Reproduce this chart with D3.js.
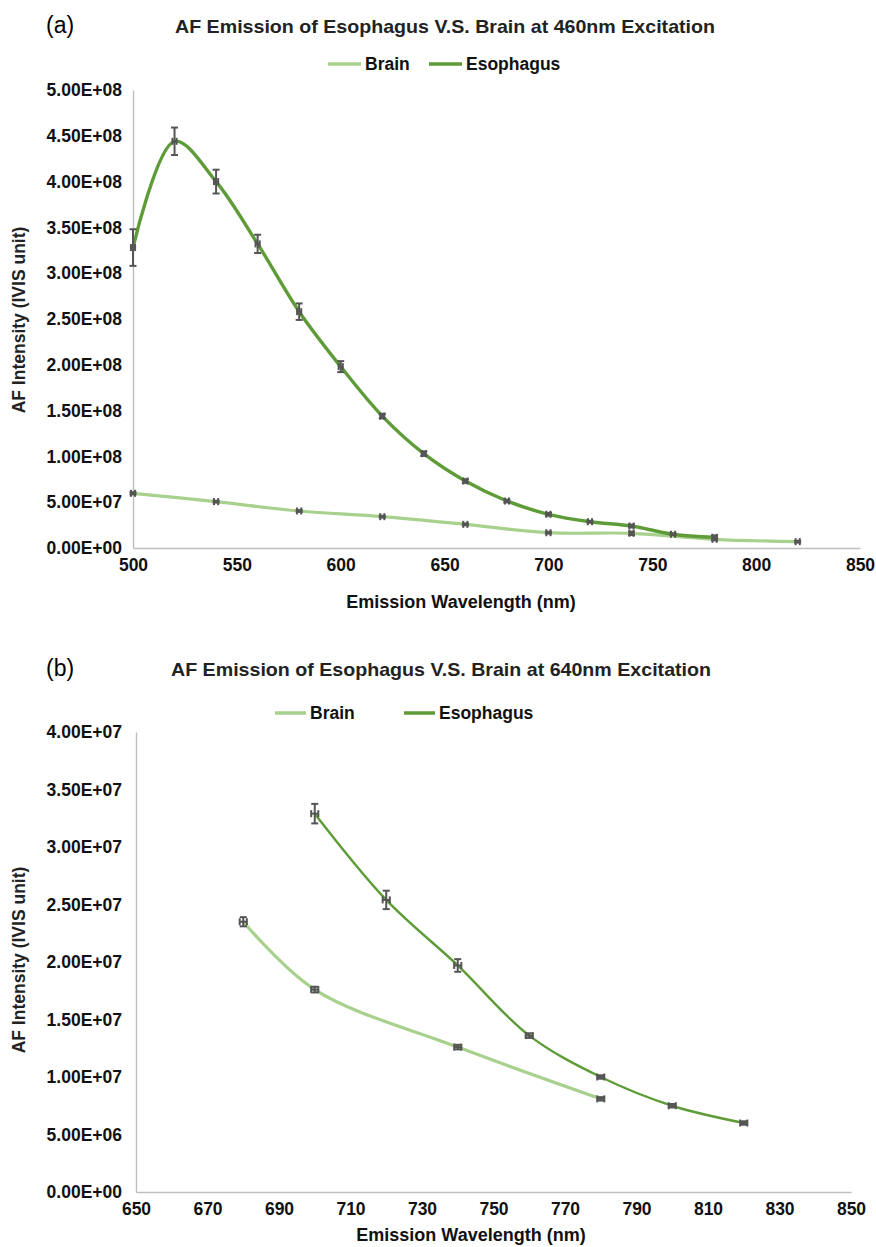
<!DOCTYPE html>
<html>
<head>
<meta charset="utf-8">
<script src="https://cdn.jsdelivr.net/npm/d3@7"></script>
<style>
  html, body { margin: 0; padding: 0; background: #fff; }
  text { font-family: "Liberation Sans", Arial, sans-serif; }
</style>
</head>
<body>
<svg id="chart" width="876" height="1247"></svg>
<script>
// ---------- Panel (a): 460nm excitation ----------
const aBrainX   = [500, 540, 580, 620, 660, 700, 740, 780, 820];
const aBrainY   = [5.97e7, 5.06e7, 4.04e7, 3.42e7, 2.58e7, 1.67e7, 1.60e7, 0.95e7, 0.69e7];
const aBrainErr = [1.2e6, 1.0e6, 1.0e6, 1.0e6, 1.0e6, 1.0e6, 1.8e6, 1.2e6, 1.0e6];
const aEsoX     = [500, 520, 540, 560, 580, 600, 620, 640, 660, 680, 700, 720, 740, 760, 780];
const aEsoY     = [3.28e8, 4.44e8, 4.00e8, 3.32e8, 2.58e8, 1.98e8, 1.44e8, 1.03e8, 7.31e7, 5.13e7, 3.68e7, 2.87e7, 2.40e7, 1.50e7, 1.17e7];
const aEsoErr   = [2.0e7, 1.5e7, 1.3e7, 1.0e7, 9.0e6, 6.0e6, 2.5e6, 2.5e6, 2.0e6, 1.5e6, 1.5e6, 1.0e6, 1.5e6, 1.0e6, 2.0e6];
const aXTicks   = [500, 550, 600, 650, 700, 750, 800, 850];
const aYTicks   = [0, 5e7, 1e8, 1.5e8, 2e8, 2.5e8, 3e8, 3.5e8, 4e8, 4.5e8, 5e8];

// ---------- Panel (b): 640nm excitation ----------
const bBrainX   = [680, 700, 740, 780];
const bBrainY   = [2.35e7, 1.76e7, 1.26e7, 0.81e7];
const bBrainErr = [0.4e6, 0.25e6, 0.2e6, 0.15e6];
const bEsoX     = [700, 720, 740, 760, 780, 800, 820];
const bEsoY     = [3.29e7, 2.54e7, 1.97e7, 1.36e7, 1.00e7, 0.75e7, 0.60e7];
const bEsoErr   = [0.85e6, 0.8e6, 0.55e6, 0.2e6, 0.15e6, 0.15e6, 0.15e6];
const bXTicks   = [650, 670, 690, 710, 730, 750, 770, 790, 810, 830, 850];
const bYTicks   = [0, 5e6, 1e7, 1.5e7, 2e7, 2.5e7, 3e7, 3.5e7, 4e7];

const BRAIN = "#a9d18e";
const ESO = "#5e9c38";
const ERR = "#555555";
const AXIS = "#bfbfbf";

const svg = d3.select("#chart");

function fmtE(v) {
  if (v === 0) return "0.00E+00";
  const e = Math.floor(Math.log10(v));
  const m = v / Math.pow(10, e);
  return m.toFixed(2) + "E+" + String(e).padStart(2, "0");
}

function drawPanel(cfg) {
  const g = svg.append("g");
  const x = d3.scaleLinear().domain(cfg.xDomain).range([cfg.left, cfg.right]);
  const y = d3.scaleLinear().domain(cfg.yDomain).range([cfg.bottom, cfg.top]);

  // panel letter
  g.append("text").attr("x", cfg.letterX).attr("y", cfg.letterY)
    .attr("font-size", 23).attr("fill", "#000").text(cfg.letter);
  // title
  g.append("text").attr("x", cfg.titleX).attr("y", cfg.titleY)
    .attr("text-anchor", "middle").attr("font-size", 19).attr("font-weight", "bold")
    .attr("fill", "#222").attr("textLength", 540).attr("lengthAdjust", "spacingAndGlyphs").text(cfg.title);

  // axes
  const xAxis = d3.axisBottom(x).tickValues(cfg.xTicks).tickSize(0).tickPadding(11).tickFormat(d3.format("d"));
  const gx = g.append("g").attr("transform", `translate(0,${cfg.bottom})`).call(xAxis);
  gx.select(".domain").attr("stroke", AXIS).attr("stroke-width", 1.4);
  gx.selectAll("text").attr("font-size", 17.5).attr("font-weight", "bold").attr("fill", "#111")
    .attr("font-family", "Liberation Sans, Arial, sans-serif");

  const yAxis = d3.axisLeft(y).tickValues(cfg.yTicks).tickSize(0).tickPadding(cfg.left - 122).tickFormat(fmtE);
  const gy = g.append("g").attr("transform", `translate(${cfg.left},0)`).call(yAxis);
  gy.select(".domain").attr("stroke", AXIS).attr("stroke-width", 1.4);
  gy.selectAll("text").attr("font-size", 17.5).attr("font-weight", "bold").attr("fill", "#111")
    .attr("font-family", "Liberation Sans, Arial, sans-serif");

  // axis titles
  g.append("text").attr("x", cfg.xTitleX).attr("y", cfg.xTitleY).attr("text-anchor", "middle")
    .attr("font-size", 18).attr("font-weight", "bold").attr("fill", "#111").text("Emission Wavelength (nm)");
  g.append("text").attr("transform", `translate(${cfg.yTitleX},${cfg.yTitleY}) rotate(-90)`)
    .attr("text-anchor", "middle").attr("font-size", 17.5).attr("font-weight", "bold")
    .attr("fill", "#222").text("AF Intensity (IVIS unit)");

  const line = d3.line().x(d => x(d[0])).y(d => y(d[1])).curve(d3.curveCatmullRom.alpha(0.5));

  function series(xs, ys, errs, color, width, xErr) {
    const pts = xs.map((v, i) => [v, ys[i], errs[i]]);
    g.append("path").datum(pts).attr("d", line).attr("fill", "none")
      .attr("stroke", color).attr("stroke-width", width).attr("stroke-linecap", "round");
    const eb = g.append("g").attr("stroke", ERR).attr("stroke-width", 2).attr("fill", "none");
    pts.forEach(p => {
      const cx = x(p[0]);
      const y1 = y(p[1] + p[2]), y2 = y(p[1] - p[2]);
      const cap = 3.5;
      eb.append("line").attr("x1", cx).attr("x2", cx).attr("y1", y1).attr("y2", y2);
      eb.append("line").attr("x1", cx - cap).attr("x2", cx + cap).attr("y1", y1).attr("y2", y1);
      eb.append("line").attr("x1", cx - cap).attr("x2", cx + cap).attr("y1", y2).attr("y2", y2);
      if (xErr) {
        const cy = y(p[1]);
        const xa = x(p[0] - xErr), xb = x(p[0] + xErr);
        const hc = 3.5;
        eb.append("line").attr("x1", xa).attr("x2", xb).attr("y1", cy).attr("y2", cy);
        eb.append("line").attr("x1", xa).attr("x2", xa).attr("y1", cy - hc).attr("y2", cy + hc);
        eb.append("line").attr("x1", xb).attr("x2", xb).attr("y1", cy - hc).attr("y2", cy + hc);
      }
    });
  }
  series(cfg.brainX, cfg.brainY, cfg.brainErr, BRAIN, cfg.brainW, cfg.xErr);
  series(cfg.esoX, cfg.esoY, cfg.esoErr, ESO, cfg.esoW, cfg.xErr);

  // legend
  const lg = g.append("g");
  [[cfg.legBrainX, BRAIN, "Brain"], [cfg.legEsoX, ESO, "Esophagus"]].forEach(l => {
    lg.append("line").attr("x1", l[0]).attr("x2", l[0] + cfg.legLen).attr("y1", cfg.legY).attr("y2", cfg.legY)
      .attr("stroke", l[1]).attr("stroke-width", 3.5);
    lg.append("text").attr("x", l[0] + cfg.legLen + 4).attr("y", cfg.legY + 6).attr("font-size", 17.5)
      .attr("font-weight", "bold").attr("fill", "#111").text(l[2]);
  });
}

drawPanel({
  letter: "(a)", letterX: 46, letterY: 33,
  title: "AF Emission of Esophagus V.S. Brain at 460nm Excitation", titleX: 445, titleY: 33,
  xDomain: [500, 850], yDomain: [0, 5e8],
  left: 133, right: 860, top: 90, bottom: 548,
  xTicks: aXTicks, yTicks: aYTicks,
  xTitleX: 461, xTitleY: 608, yTitleX: 25, yTitleY: 320,
  brainX: aBrainX, brainY: aBrainY, brainErr: aBrainErr,
  esoX: aEsoX, esoY: aEsoY, esoErr: aEsoErr,
  brainW: 3.2, esoW: 3.4, xErr: 1.0,
  legBrainX: 328, legEsoX: 429, legY: 64, legLen: 33
});

drawPanel({
  letter: "(b)", letterX: 46, letterY: 676,
  title: "AF Emission of Esophagus V.S. Brain at 640nm Excitation", titleX: 441, titleY: 676,
  xDomain: [650, 850], yDomain: [0, 4e7],
  left: 136, right: 851, top: 732, bottom: 1192,
  xTicks: bXTicks, yTicks: bYTicks,
  xTitleX: 471, xTitleY: 1241, yTitleX: 25, yTitleY: 960,
  brainX: bBrainX, brainY: bBrainY, brainErr: bBrainErr,
  esoX: bEsoX, esoY: bEsoY, esoErr: bEsoErr,
  brainW: 3.2, esoW: 2.4, xErr: 1.0,
  legBrainX: 275, legEsoX: 404, legY: 713, legLen: 31
});
</script>
</body>
</html>
